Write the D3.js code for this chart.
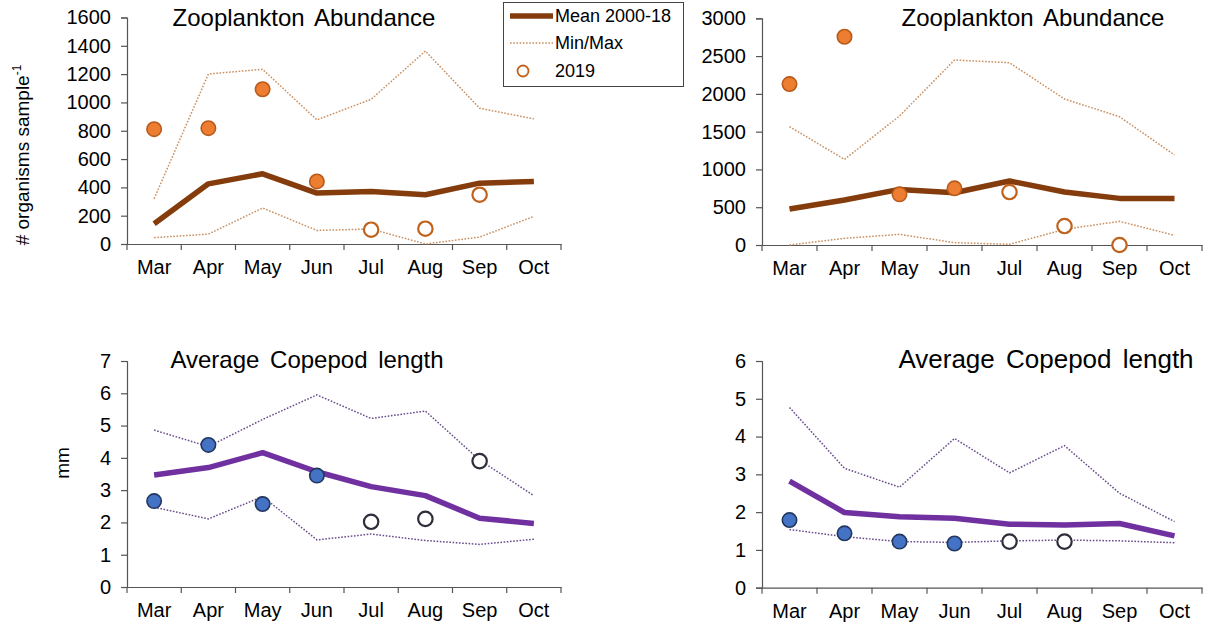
<!DOCTYPE html>
<html><head><meta charset="utf-8">
<script src="https://cdn.jsdelivr.net/npm/d3@7"></script>
<style>
body{margin:0;background:#fff;}
svg{display:block;font-family:"Liberation Sans",Arial,sans-serif;}
</style></head>
<body><svg id="c" width="1206" height="628"></svg>
<script>
const months = ["Mar","Apr","May","Jun","Jul","Aug","Sep","Oct"];
const filled2019 = [true,true,true,true,false,false,false,false];

// Top-left: Zooplankton abundance
const zooA_mean = [143,425,496,360,371,348,430,442];
const zooA_max  = [320,1201,1234,877,1022,1363,959,884];
const zooA_min  = [45,70,254,96,106,0,49,195];
const zooA_2019 = [811,818,1093,442,101,108,348,null];
const zooA_ticks = [0,200,400,600,800,1000,1200,1400,1600];

// Top-right: Zooplankton abundance
const zooB_mean = [476,595,736,692,847,701,617,617];
const zooB_max  = [1566,1133,1707,2448,2412,1932,1698,1191];
const zooB_min  = [0,88,141,31,9,207,313,128];
const zooB_2019 = [2130,2756,670,750,701,251,0,null];
const zooB_ticks = [0,500,1000,1500,2000,2500,3000];

// Bottom-left: Average copepod length
const copA_mean = [3.47,3.70,4.16,3.57,3.11,2.83,2.13,1.97];
const copA_max  = [4.86,4.35,5.19,5.95,5.22,5.45,3.93,2.83];
const copA_min  = [2.47,2.11,2.80,1.46,1.64,1.44,1.32,1.48];
const copA_2019 = [2.66,4.40,2.57,3.45,2.02,2.11,3.90,null];
const copA_ticks = [0,1,2,3,4,5,6,7];

// Bottom-right: Average copepod length
const copB_mean = [2.82,1.99,1.88,1.84,1.68,1.66,1.70,1.37];
const copB_max  = [4.77,3.16,2.66,3.95,3.04,3.76,2.50,1.75];
const copB_min  = [1.54,1.35,1.22,1.20,1.24,1.26,1.24,1.19];
const copB_2019 = [1.79,1.44,1.22,1.17,1.22,1.22,null,null];
const copB_ticks = [0,1,2,3,4,5,6];

const svg = d3.select("#c");

const zooStyle = {mean:"#843C0C", minmax:"#C98F60", fill:"#ED7D31", dotStroke:"#B85A1A", openStroke:"#C0621C"};
const copStyle = {mean:"#7030A0", minmax:"#6A4C8C", fill:"#4472C4", dotStroke:"#22365E", openStroke:"#2E2E3A"};

function panel(o){
  const g = svg.append("g");
  const x = d3.scaleBand().domain(months).range([o.x0,o.x1]);
  const y = d3.scaleLinear().domain([0,o.ticks[o.ticks.length-1]]).range([o.y0,o.yTop]);
  const cx = m => x(m)+x.bandwidth()/2;

  const ya = g.append("g").attr("transform",`translate(${o.x0},0)`)
    .call(d3.axisLeft(y).tickValues(o.ticks).tickSize(6).tickPadding(10).tickFormat(d3.format("d")));
  ya.select(".domain").attr("stroke","#555").attr("stroke-width",1.2);
  ya.selectAll(".tick line").attr("stroke","#555").attr("stroke-width",1.2);
  ya.selectAll("text").attr("font-size",20).attr("fill","#000").attr("font-family","Liberation Sans, Arial, sans-serif");

  const xa = g.append("g").attr("transform",`translate(0,${o.y0})`)
    .call(d3.axisBottom(x).tickSize(0).tickPadding(16));
  xa.select(".domain").attr("stroke","#555").attr("stroke-width",1.2);
  xa.selectAll("text").attr("font-size",20).attr("fill","#000").attr("font-family","Liberation Sans, Arial, sans-serif");
  const edges = months.map(m=>x(m)).concat([o.x1]);
  g.selectAll(".xt").data(edges).enter().append("line")
    .attr("x1",d=>d).attr("x2",d=>d).attr("y1",o.y0).attr("y2",o.y0+6)
    .attr("stroke","#555").attr("stroke-width",1.2);

  const line = d3.line().x((d,i)=>cx(months[i])).y(d=>y(d));
  [o.max,o.min].forEach(arr=>{
    g.append("path").datum(arr).attr("d",line).attr("fill","none")
      .attr("stroke",o.st.minmax).attr("stroke-width",1.5).attr("stroke-dasharray","1.6,1.6");
  });
  g.append("path").datum(o.mean).attr("d",line).attr("fill","none")
    .attr("stroke",o.st.mean).attr("stroke-width",5.5).attr("stroke-linejoin","round");

  const pts = o.obs.map((v,i)=>({v,i})).filter(d=>d.v!==null);
  g.selectAll(".pt").data(pts).enter().append("circle")
    .attr("cx",d=>cx(months[d.i])).attr("cy",d=>y(d.v)).attr("r",7.2)
    .attr("fill",d=>filled2019[d.i]?o.st.fill:"#fff")
    .attr("stroke",d=>filled2019[d.i]?o.st.dotStroke:o.st.openStroke)
    .attr("stroke-width",d=>filled2019[d.i]?1.6:2.2);

  g.append("text").attr("x",o.tx).attr("y",o.ty).attr("text-anchor","middle")
    .attr("font-size",o.tfs).attr("word-spacing",4).attr("fill","#000").text(o.title);
}

panel({x0:127,x1:561,y0:244,yTop:17.5,ticks:zooA_ticks,mean:zooA_mean,max:zooA_max,min:zooA_min,obs:zooA_2019,
  st:zooStyle,title:"Zooplankton Abundance",tx:304,ty:26,tfs:24});
panel({x0:762,x1:1202,y0:245,yTop:18.3,ticks:zooB_ticks,mean:zooB_mean,max:zooB_max,min:zooB_min,obs:zooB_2019,
  st:zooStyle,title:"Zooplankton Abundance",tx:1033,ty:26,tfs:24});
panel({x0:127,x1:561,y0:587,yTop:361,ticks:copA_ticks,mean:copA_mean,max:copA_max,min:copA_min,obs:copA_2019,
  st:copStyle,title:"Average Copepod length",tx:307,ty:368,tfs:24});
panel({x0:762,x1:1202,y0:587.7,yTop:361,ticks:copB_ticks,mean:copB_mean,max:copB_max,min:copB_min,obs:copB_2019,
  st:copStyle,title:"Average Copepod length",tx:1046,ty:368,tfs:26});

const yl = svg.append("text").attr("transform","translate(29,155) rotate(-90)")
  .attr("text-anchor","middle").attr("font-size",19).attr("fill","#000");
yl.append("tspan").text("# organisms  sample");
yl.append("tspan").attr("dy",-8).attr("font-size",12).text("-1");
svg.append("text").attr("transform","translate(69,463) rotate(-90)")
  .attr("text-anchor","middle").attr("font-size",19).attr("fill","#000").text("mm");

const lg = svg.append("g");
lg.append("rect").attr("x",503.5).attr("y",2.5).attr("width",180).attr("height",84)
  .attr("fill","#fff").attr("stroke","#444").attr("stroke-width",1);
lg.append("line").attr("x1",510).attr("x2",553).attr("y1",16).attr("y2",16)
  .attr("stroke",zooStyle.mean).attr("stroke-width",5.5);
lg.append("line").attr("x1",510).attr("x2",553).attr("y1",43).attr("y2",43)
  .attr("stroke",zooStyle.minmax).attr("stroke-width",1.4).attr("stroke-dasharray","1.6,1.6");
lg.append("circle").attr("cx",523).attr("cy",71).attr("r",5.5)
  .attr("fill","#fff").attr("stroke",zooStyle.openStroke).attr("stroke-width",1.8);
[["Mean 2000-18",22],["Min/Max",49],["2019",77]].forEach(([t,yy])=>{
  lg.append("text").attr("x",555).attr("y",yy).attr("font-size",18).attr("fill","#000").text(t);
});
</script></body></html>
